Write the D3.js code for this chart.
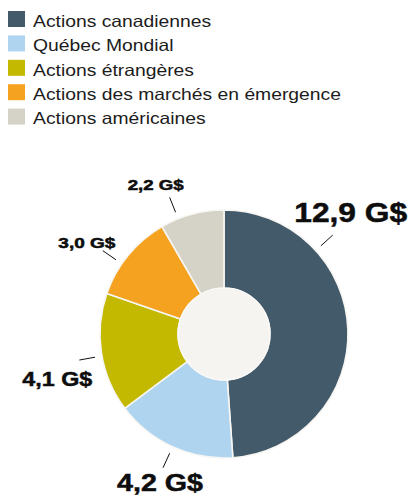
<!DOCTYPE html>
<html>
<head>
<meta charset="utf-8">
<script src="https://cdn.jsdelivr.net/npm/d3@7"></script>
<style>
  html, body { margin: 0; padding: 0; background: #ffffff; }
  svg { display: block; }
</style>
</head>
<body>
<script>
// Répartition des actions (en G$)
const categories = [
  "Actions canadiennes",
  "Québec Mondial",
  "Actions étrangères",
  "Actions des marchés en émergence",
  "Actions américaines"
];
const values = [12.9, 4.2, 4.1, 3.0, 2.2];
const colors = ["#435a6b", "#aed4f0", "#c3b900", "#f4a21f", "#d5d3c7"];

// Label layout: leader angle (deg, clockwise from top), font size, text width, offset from leader end
const leaderAngle = [47.7, 204.5, 259.8, 304.5, 338.3];
const labelSize = [27.5, 23.5, 21, 14.5, 14];
const labelWidth = [113, 86, 70, 57, 56];
const labelOffset = [[18, -13], [-3, 23], [-22, 26], [-16, -3], [-14, -7]];

const W = 408, H = 496;
const cx = 224, cy = 334, rOuter = 124, rInner = 46;
const rLeadIn = 131, rLeadOut = 147;

const svg = d3.select("body").append("svg")
  .attr("width", W).attr("height", H);

// Legend
const legend = svg.append("g").attr("transform", "translate(8,11)");
const rows = legend.selectAll("g").data(categories).join("g")
  .attr("transform", (d, i) => `translate(0,${i * 24.4})`);
rows.append("rect")
  .attr("width", 17).attr("height", 16)
  .attr("fill", (d, i) => colors[i]);
rows.append("text")
  .attr("x", 25).attr("y", 15.8)
  .attr("font-family", "'Liberation Sans', Arial, sans-serif")
  .attr("font-size", 16.5)
  .attr("fill", "#1c1c1c")
  .text(d => d)
  .each(function () {
    const len = this.getComputedTextLength();
    d3.select(this).attr("textLength", len * 1.17).attr("lengthAdjust", "spacingAndGlyphs");
  });

// Donut
const pie = d3.pie().sort(null).value(d => d);
const arcs = pie(values);
const arc = d3.arc().innerRadius(rInner).outerRadius(rOuter);

const chart = svg.append("g").attr("transform", `translate(${cx},${cy})`);
chart.selectAll("path.slice").data(arcs).join("path")
  .attr("class", "slice")
  .attr("d", arc)
  .attr("fill", (d, i) => colors[i])
  .attr("stroke", "#f7f6f3")
  .attr("stroke-width", 1.6)
  .attr("stroke-linejoin", "round");

chart.append("circle")
  .attr("r", rInner)
  .attr("fill", "#f5f4f0")
  .attr("stroke", "#fbfaf8")
  .attr("stroke-width", 1.2);

// Value labels with short leader ticks
const fmt = v => d3.format(".1f")(v).replace(".", ",") + " G$";
const polar = (deg, r) => {
  const a = deg * Math.PI / 180;
  return [r * Math.sin(a), -r * Math.cos(a)];
};

const ann = chart.selectAll("g.ann").data(values).join("g").attr("class", "ann");
ann.append("line")
  .attr("x1", (d, i) => polar(leaderAngle[i], rLeadIn)[0])
  .attr("y1", (d, i) => polar(leaderAngle[i], rLeadIn)[1])
  .attr("x2", (d, i) => polar(leaderAngle[i], rLeadOut)[0])
  .attr("y2", (d, i) => polar(leaderAngle[i], rLeadOut)[1])
  .attr("stroke", "#111")
  .attr("stroke-width", 1);
ann.append("text")
  .attr("x", (d, i) => polar(leaderAngle[i], rLeadOut)[0] + labelOffset[i][0])
  .attr("y", (d, i) => polar(leaderAngle[i], rLeadOut)[1] + labelOffset[i][1])
  .attr("text-anchor", "middle")
  .attr("font-family", "'Liberation Sans', Arial, sans-serif")
  .attr("font-weight", "bold")
  .attr("font-size", (d, i) => labelSize[i])
  .attr("fill", "#0d0d0d")
  .attr("stroke", "#0d0d0d")
  .attr("stroke-width", 0.5)
  .attr("textLength", (d, i) => labelWidth[i])
  .attr("lengthAdjust", "spacingAndGlyphs")
  .text(d => fmt(d));
</script>
</body>
</html>
